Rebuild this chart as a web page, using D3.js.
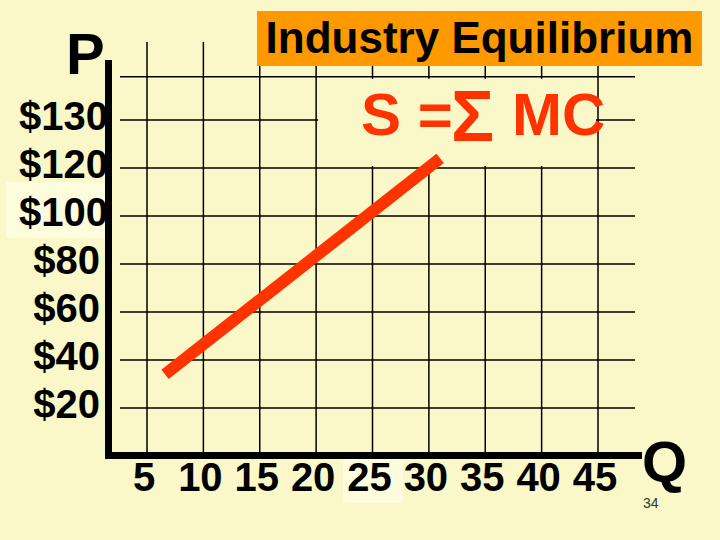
<!DOCTYPE html>
<html>
<head>
<meta charset="utf-8">
<script src="https://cdn.jsdelivr.net/npm/d3@7"></script>
<style>
  html, body { margin: 0; padding: 0; background: #faf8c8; }
  svg { display: block; }
  text { font-family: "Liberation Sans", Arial, sans-serif; }
</style>
</head>
<body>
<div id="chart"></div>
<script>
// quantity ticks along the bottom
var quantities = [5, 10, 15, 20, 25, 30, 35, 40, 45];
// price grid levels and the labels printed beside them (slide labels the 7th row "$130")
var priceLevels = [20, 40, 60, 80, 100, 120, 140, 158];
var priceLabels = ["$20", "$40", "$60", "$80", "$100", "$120", "$130", ""];
// industry supply curve, two end points
var supplyQ = [6.6, 31];
var supplyP = [34, 124];

var width = 720, height = 540;

var svg = d3.select("#chart").append("svg")
    .attr("width", width)
    .attr("height", height);

svg.append("rect")
    .attr("width", width).attr("height", height)
    .attr("fill", "#faf8c8");

var x = d3.scaleLinear().domain([5, 45]).range([147, 598]);
var y = d3.scaleLinear().domain([20, 120]).range([408, 168]);

var axisX = 108.5, axisY = 455.5;

// lighter text-box leftovers from the slide
svg.append("rect")
    .attr("x", 6).attr("y", 182).attr("width", 104).attr("height", 56)
    .attr("fill", "#fdfcdc");
svg.append("rect")
    .attr("x", 343).attr("y", 455).attr("width", 60).attr("height", 48)
    .attr("fill", "#fdfcdc");

// grid
svg.append("g").selectAll("line")
    .data(quantities)
    .join("line")
    .attr("x1", d => x(d)).attr("x2", d => x(d))
    .attr("y1", 42).attr("y2", axisY)
    .attr("stroke", "#000")
    .attr("stroke-width", 1.5);

svg.append("g").selectAll("line")
    .data(priceLevels)
    .join("line")
    .attr("x1", 120).attr("x2", 635)
    .attr("y1", d => y(d)).attr("y2", d => y(d))
    .attr("stroke", "#000")
    .attr("stroke-width", 1.5);

// label box for the curve, hides part of the grid
svg.append("rect")
    .attr("x", x(20) + 2).attr("y", y(158) + 2)
    .attr("width", x(45) - x(20) - 4)
    .attr("height", y(120) - y(158) - 4)
    .attr("fill", "#faf8c8");

// title box
svg.append("rect")
    .attr("x", 257).attr("y", 11).attr("width", 445).attr("height", 55)
    .attr("fill", "#ff9900");
svg.append("text")
    .text("Industry Equilibrium")
    .attr("x", 479.5).attr("y", 53)
    .attr("text-anchor", "middle")
    .attr("font-size", 44)
    .attr("font-weight", "bold")
    .attr("fill", "#000");

// price labels
svg.append("g").selectAll("text")
    .data(priceLevels.map((d, i) => ({ v: d, label: priceLabels[i] })).filter(d => d.label))
    .join("text")
    .text(d => d.label)
    .attr("x", d => d.label.length > 3 ? 108 : 100)
    .attr("y", d => y(d.v) + 10)
    .attr("text-anchor", "end")
    .attr("font-size", 40)
    .attr("font-weight", "bold")
    .attr("fill", "#000");

// quantity labels
svg.append("g").selectAll("text")
    .data(quantities)
    .join("text")
    .text(d => d)
    .attr("x", d => x(d) - 3)
    .attr("y", 491)
    .attr("text-anchor", "middle")
    .attr("font-size", 40)
    .attr("font-weight", "bold")
    .attr("fill", "#000");

// axes
svg.append("line")
    .attr("x1", axisX).attr("x2", axisX)
    .attr("y1", 60).attr("y2", axisY + 3.5)
    .attr("stroke", "#000").attr("stroke-width", 7);
svg.append("line")
    .attr("x1", axisX - 3.5).attr("x2", 642)
    .attr("y1", axisY).attr("y2", axisY)
    .attr("stroke", "#000").attr("stroke-width", 7);

svg.append("text").text("P")
    .attr("x", 66).attr("y", 74)
    .attr("font-size", 58).attr("font-weight", "bold").attr("fill", "#000");
svg.append("text").text("Q")
    .attr("x", 642).attr("y", 482)
    .attr("font-size", 58).attr("font-weight", "bold").attr("fill", "#000");

// supply curve
var line = d3.line()
    .x(d => x(d[0]))
    .y(d => y(d[1]));

svg.append("path")
    .datum(d3.zip(supplyQ, supplyP))
    .attr("d", line)
    .attr("fill", "none")
    .attr("stroke", "#ff3300")
    .attr("stroke-width", 12);

// curve label
var lab = svg.append("g").attr("fill", "#ff3300").attr("font-weight", "bold");
lab.append("text").text("S =")
    .attr("x", 361).attr("y", 135).attr("font-size", 60);
lab.append("text").text("\u03A3")
    .attr("x", 451).attr("y", 141).attr("font-size", 72);
lab.append("text").text("MC")
    .attr("x", 512).attr("y", 135).attr("font-size", 60);

// slide number
svg.append("text").text("34")
    .attr("x", 643).attr("y", 508)
    .attr("font-size", 14)
    .attr("fill", "#333");
</script>
</body>
</html>
